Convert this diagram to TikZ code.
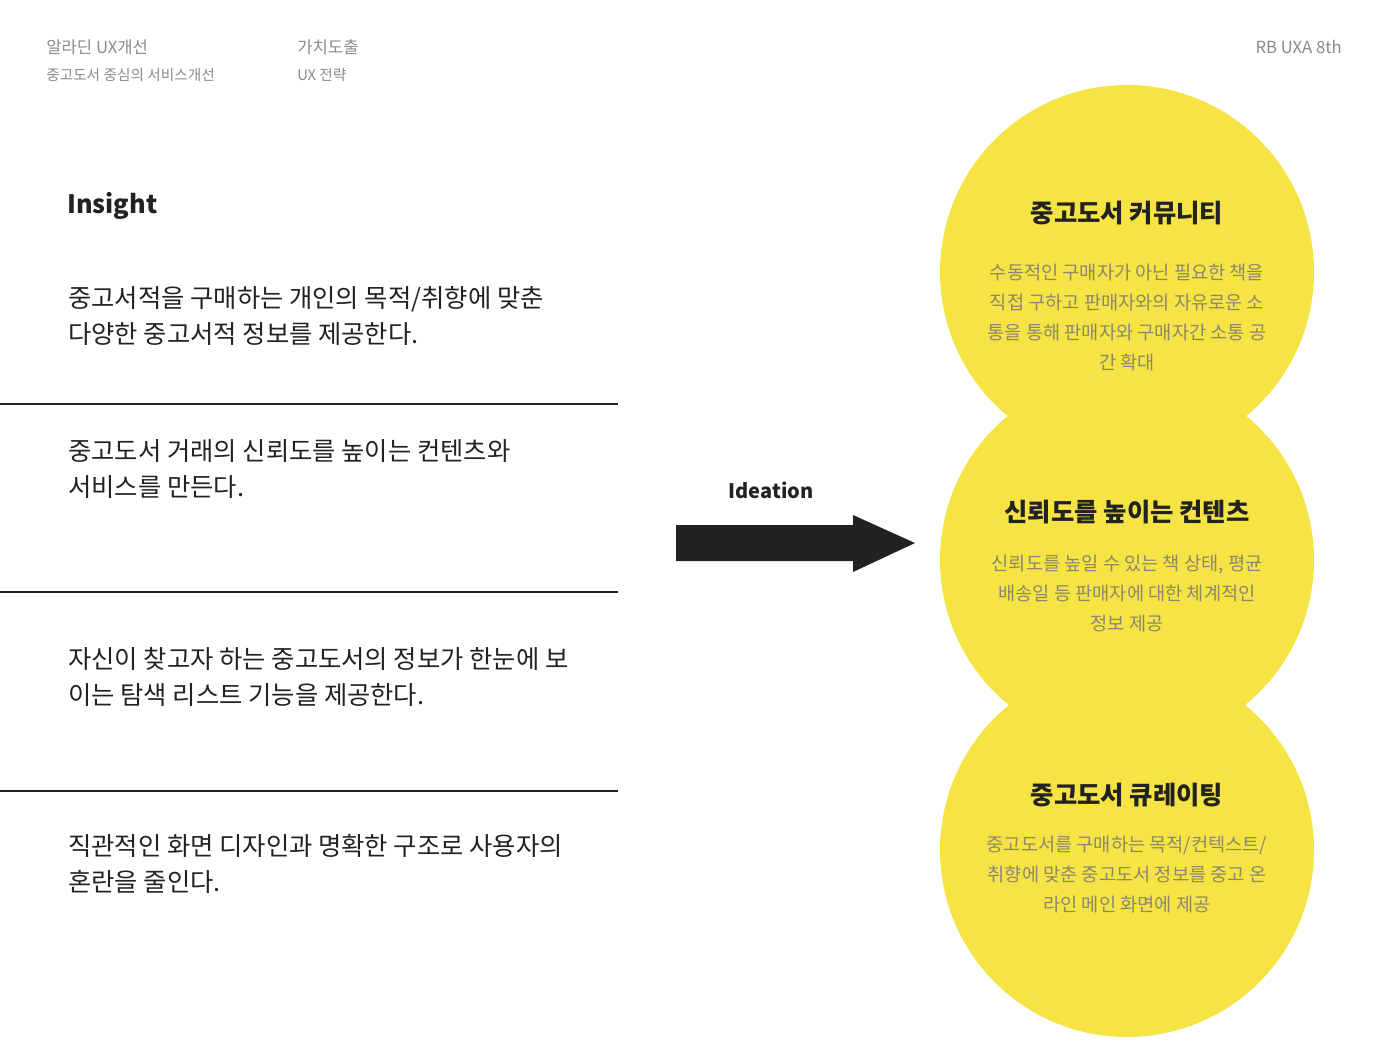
\documentclass[tikz,border=0pt]{standalone}
\usepackage{fontspec}
\setmainfont{Noto Sans CJK KR}
\usepackage{tikz}
\definecolor{disc}{HTML}{F5E443}
\definecolor{headgray}{HTML}{8A8A8A}
\definecolor{softgray}{HTML}{8C8770}
\definecolor{ink}{HTML}{222222}

\begin{document}
\begin{tikzpicture}[x=0.75pt,y=-0.75pt,
		head/.style={anchor=west,text=headgray,font=\fontsize{12.5}{15}\selectfont,inner sep=0pt},
		subhead/.style={anchor=west,text=headgray,font=\fontsize{11}{13}\selectfont,inner sep=0pt},
		insight/.style={anchor=north west,align=left,text=ink,inner sep=0pt,font=\fontsize{19}{27}\selectfont},
		title/.style={text=ink,inner sep=0pt,font=\bfseries\fontsize{19}{23}\selectfont},
		detail/.style={align=center,text=softgray,inner sep=0pt,font=\fontsize{14}{22.5}\selectfont}]
			\useasboundingbox (0,0) rectangle (1400,1050);
			
			% header
			
			\node[head] (h1) at (46,47) {알라딘 UX개선};
			\node[subhead] (h2) at (46,75) {중고도서 중심의 서비스개선};
			\node[head] (h3) at (297,47) {가치도출};
			\node[subhead] (h4) at (297,75) {UX 전략};
			\node[head,anchor=east] (h5) at (1342,47) {RB UXA 8th};
			
			% insight
			
			\node[anchor=west,inner sep=0pt,text=ink,font=\bfseries\fontsize{19}{23}\selectfont] (ins) at (67,206) {Insight};
			\node[insight] (i1) at (68,286) {중고서적을 구매하는 개인의 목적/취향에 맞춘\\다양한 중고서적 정보를 제공한다.};
			\node[insight] (i2) at (68,439) {중고도서 거래의 신뢰도를 높이는 컨텐츠와\\서비스를 만든다.};
			\node[insight] (i3) at (68,647) {자신이 찾고자 하는 중고도서의 정보가 한눈에 보\\이는 탐색 리스트 기능을 제공한다.};
			\node[insight] (i4) at (68,834) {직관적인 화면 디자인과 명확한 구조로 사용자의\\혼란을 줄인다.};
			\foreach \y in {404,592,791}
				\draw[ink,line width=1.3pt] (0,\y) -- (618,\y);
			
			% ideation
			
			\node[inner sep=0pt,text=ink,font=\bfseries\fontsize{15}{18}\selectfont] (idea) at (771,490) {Ideation};
			\fill[ink] (676,525) -- (853,525) -- (853,515) -- (915,543)
				-- (853,572) -- (853,561) -- (676,561) -- cycle;
			
			% circles
			
			\foreach \cy in {272,560,850}
				\fill[disc] (1127,\cy) circle [radius=187];
			\node[title] (c1) at (1127,213) {중고도서 커뮤니티};
			\node[detail] (d1) at (1127,318) {수동적인 구매자가 아닌 필요한 책을\\직접 구하고 판매자와의 자유로운 소\\통을 통해 판매자와 구매자간 소통 공\\간 확대};
			\node[title] (c2) at (1127,512) {신뢰도를 높이는 컨텐츠};
			\node[detail] (d2) at (1127,594) {신뢰도를 높일 수 있는 책 상태, 평균\\배송일 등 판매자에 대한 체계적인\\정보 제공};
			\node[title] (c3) at (1127,795) {중고도서 큐레이팅};
			\node[detail] (d3) at (1127,875) {중고도서를 구매하는 목적/컨텍스트/\\취향에 맞춘 중고도서 정보를 중고 온\\라인 메인 화면에 제공};
		\end{tikzpicture}
\end{document}
